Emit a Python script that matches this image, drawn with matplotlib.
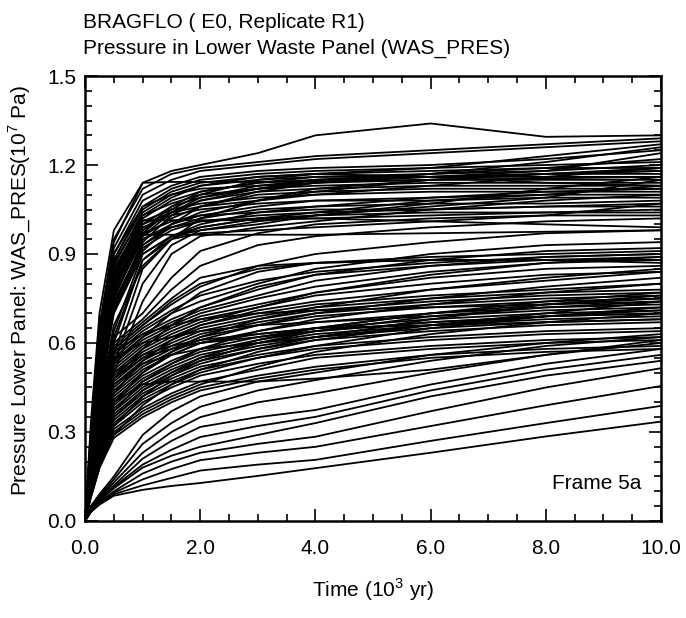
"""Recreate BRAGFLO WAS_PRES spaghetti plot (Frame 5a)."""

import matplotlib
import matplotlib.pyplot as plt
from matplotlib.ticker import FormatStrFormatter, MultipleLocator

matplotlib.use("Agg")

plt.rcParams["font.family"] = ["Liberation Sans", "DejaVu Sans"]
plt.rcParams["mathtext.fontset"] = "custom"
plt.rcParams["mathtext.rm"] = "Liberation Sans"

# ── Data (pressure, 1e7 Pa) ──────────────────────────────────────────────────

TIME = [0.0, 0.1, 0.25, 0.5, 1.0, 1.5, 2.0, 3.0, 4.0, 6.0, 8.0, 10.0]

HIGH = [
    [0, 0.33, 0.70, 0.98, 1.14, 1.18, 1.20, 1.24, 1.30, 1.34, 1.295, 1.30],
    [0, 0.30, 0.66, 0.95, 1.12, 1.17, 1.19, 1.21, 1.23, 1.25, 1.27, 1.29],
    [0, 0.28, 0.62, 0.92, 1.10, 1.15, 1.18, 1.20, 1.22, 1.24, 1.26, 1.28],
    [0, 0.30, 0.64, 0.94, 1.14, 1.143, 1.143, 1.143, 1.145, 1.15, 1.155, 1.16],
    [0, 0.26, 0.58, 0.88, 1.06, 1.12, 1.15, 1.17, 1.18, 1.19, 1.20, 1.21],
    [0, 0.27, 0.60, 0.90, 1.08, 1.13, 1.16, 1.18, 1.19, 1.20, 1.22, 1.25],
    [0, 0.25, 0.55, 0.86, 1.04, 1.10, 1.13, 1.15, 1.16, 1.16, 1.17, 1.17],
    [0, 0.24, 0.54, 0.84, 1.02, 1.08, 1.11, 1.14, 1.15, 1.16, 1.16, 1.16],
    [0, 0.26, 0.57, 0.87, 1.03, 1.07, 1.10, 1.12, 1.14, 1.15, 1.15, 1.15],
    [0, 0.23, 0.52, 0.82, 1.00, 1.06, 1.09, 1.12, 1.13, 1.14, 1.14, 1.14],
    [0, 0.25, 0.56, 0.85, 1.014, 1.014, 1.014, 1.014, 1.02, 1.03, 1.04, 1.05],
    [0, 0.22, 0.50, 0.80, 0.965, 0.965, 0.965, 0.965, 0.965, 0.97, 0.975, 0.98],
    [0, 0.22, 0.50, 0.80, 0.98, 1.04, 1.08, 1.11, 1.12, 1.13, 1.13, 1.13],
    [0, 0.21, 0.48, 0.78, 0.96, 1.02, 1.06, 1.10, 1.11, 1.12, 1.12, 1.12],
    [0, 0.24, 0.53, 0.83, 1.01, 1.05, 1.07, 1.09, 1.10, 1.11, 1.11, 1.11],
    [0, 0.20, 0.46, 0.76, 0.95, 1.00, 1.03, 1.06, 1.08, 1.09, 1.10, 1.10],
    [0, 0.23, 0.51, 0.81, 0.99, 1.03, 1.05, 1.07, 1.08, 1.08, 1.09, 1.09],
    [0, 0.20, 0.45, 0.74, 0.93, 0.99, 1.02, 1.05, 1.06, 1.07, 1.07, 1.08],
    [0, 0.19, 0.44, 0.72, 0.92, 0.98, 1.01, 1.03, 1.04, 1.05, 1.06, 1.07],
    [0, 0.21, 0.47, 0.77, 0.97, 1.01, 1.03, 1.04, 1.05, 1.05, 1.06, 1.06],
    [0, 0.18, 0.42, 0.70, 0.90, 0.96, 0.99, 1.02, 1.03, 1.04, 1.04, 1.04],
    [0, 0.22, 0.49, 0.79, 0.97, 1.05, 1.10, 1.15, 1.17, 1.18, 1.19, 1.19],
    [0, 0.21, 0.48, 0.78, 0.98, 1.06, 1.11, 1.14, 1.16, 1.17, 1.18, 1.20],
    [0, 0.20, 0.46, 0.75, 0.96, 1.04, 1.09, 1.13, 1.15, 1.16, 1.17, 1.18],
    [0, 0.19, 0.45, 0.73, 0.94, 1.03, 1.08, 1.12, 1.15, 1.17, 1.19, 1.22],
    [0, 0.18, 0.43, 0.71, 0.91, 1.00, 1.06, 1.11, 1.14, 1.16, 1.18, 1.24],
    [0, 0.17, 0.40, 0.66, 0.86, 0.95, 1.02, 1.08, 1.12, 1.15, 1.17, 1.19],
    [0, 0.15, 0.35, 0.60, 0.88, 0.96, 1.00, 1.04, 1.06, 1.09, 1.11, 1.12],
    [0, 0.14, 0.33, 0.56, 0.85, 0.95, 0.99, 1.02, 1.04, 1.08, 1.10, 1.13],
    [0, 0.13, 0.31, 0.53, 0.80, 0.93, 0.98, 1.01, 1.03, 1.06, 1.09, 1.15],
    [0, 0.12, 0.30, 0.50, 0.74, 0.90, 0.96, 0.99, 1.01, 1.05, 1.08, 1.10],
    [0, 0.27, 0.60, 0.90, 1.06, 1.10, 1.12, 1.13, 1.14, 1.17, 1.21, 1.26],
    [0, 0.24, 0.54, 0.84, 1.03, 1.09, 1.13, 1.16, 1.17, 1.16, 1.14, 1.13],
    [0, 0.19, 0.44, 0.73, 0.93, 1.00, 1.04, 1.08, 1.11, 1.15, 1.17, 1.18],
    [0, 0.16, 0.38, 0.64, 0.90, 0.96, 0.98, 1.00, 1.03, 1.07, 1.12, 1.16],
    [0, 0.23, 0.52, 0.82, 1.00, 1.04, 1.06, 1.08, 1.10, 1.13, 1.16, 1.19],
    [0, 0.20, 0.46, 0.76, 0.95, 0.99, 1.01, 1.02, 1.02, 1.01, 1.00, 0.99],
    [0, 0.15, 0.36, 0.62, 0.88, 0.95, 0.97, 0.98, 0.99, 1.01, 1.03, 1.07],
    [0, 0.26, 0.58, 0.88, 1.05, 1.11, 1.14, 1.16, 1.17, 1.19, 1.23, 1.27],
]

MIDDLE = [
    [0, 0.22, 0.44, 0.62, 0.70, 0.82, 0.91, 0.97, 1.00, 1.02, 1.03, 1.03],
    [0, 0.21, 0.43, 0.60, 0.68, 0.78, 0.86, 0.93, 0.96, 0.99, 1.01, 1.02],
    [0, 0.20, 0.42, 0.59, 0.67, 0.75, 0.82, 0.86, 0.87, 0.88, 0.88, 0.89],
    [0, 0.20, 0.41, 0.58, 0.66, 0.73, 0.79, 0.86, 0.90, 0.94, 0.97, 0.98],
    [0, 0.19, 0.40, 0.57, 0.65, 0.71, 0.76, 0.81, 0.84, 0.87, 0.89, 0.90],
    [0, 0.19, 0.39, 0.56, 0.64, 0.70, 0.74, 0.80, 0.85, 0.90, 0.93, 0.94],
    [0, 0.18, 0.38, 0.55, 0.63, 0.68, 0.72, 0.78, 0.83, 0.88, 0.91, 0.92],
    [0, 0.18, 0.37, 0.54, 0.62, 0.67, 0.71, 0.76, 0.81, 0.86, 0.89, 0.90],
    [0, 0.17, 0.36, 0.53, 0.61, 0.66, 0.70, 0.75, 0.79, 0.84, 0.87, 0.88],
    [0, 0.17, 0.35, 0.52, 0.60, 0.65, 0.69, 0.73, 0.77, 0.82, 0.85, 0.86],
    [0, 0.16, 0.34, 0.51, 0.59, 0.64, 0.68, 0.72, 0.76, 0.80, 0.83, 0.84],
    [0, 0.16, 0.33, 0.50, 0.58, 0.63, 0.67, 0.72, 0.77, 0.83, 0.87, 0.89],
    [0, 0.15, 0.33, 0.49, 0.57, 0.62, 0.66, 0.70, 0.73, 0.76, 0.78, 0.80],
    [0, 0.15, 0.32, 0.48, 0.56, 0.61, 0.65, 0.69, 0.72, 0.75, 0.77, 0.78],
    [0, 0.14, 0.31, 0.47, 0.55, 0.60, 0.64, 0.68, 0.71, 0.74, 0.76, 0.77],
    [0, 0.14, 0.30, 0.46, 0.54, 0.59, 0.63, 0.67, 0.70, 0.73, 0.75, 0.76],
    [0, 0.14, 0.30, 0.45, 0.53, 0.58, 0.62, 0.66, 0.69, 0.72, 0.74, 0.75],
    [0, 0.13, 0.29, 0.44, 0.52, 0.57, 0.61, 0.66, 0.70, 0.75, 0.79, 0.82],
    [0, 0.13, 0.28, 0.43, 0.51, 0.56, 0.60, 0.64, 0.67, 0.70, 0.72, 0.73],
    [0, 0.13, 0.28, 0.42, 0.50, 0.56, 0.60, 0.63, 0.65, 0.66, 0.67, 0.68],
    [0, 0.12, 0.27, 0.41, 0.49, 0.54, 0.58, 0.62, 0.65, 0.68, 0.70, 0.71],
    [0, 0.12, 0.26, 0.40, 0.48, 0.53, 0.57, 0.61, 0.64, 0.67, 0.69, 0.70],
    [0, 0.12, 0.26, 0.39, 0.47, 0.52, 0.56, 0.60, 0.63, 0.66, 0.68, 0.69],
    [0, 0.11, 0.25, 0.38, 0.46, 0.51, 0.55, 0.59, 0.62, 0.65, 0.67, 0.68],
    [0, 0.11, 0.24, 0.37, 0.45, 0.50, 0.54, 0.58, 0.61, 0.64, 0.66, 0.67],
    [0, 0.11, 0.24, 0.36, 0.44, 0.49, 0.53, 0.58, 0.62, 0.68, 0.73, 0.76],
    [0, 0.10, 0.23, 0.35, 0.43, 0.48, 0.52, 0.56, 0.59, 0.62, 0.64, 0.65],
    [0, 0.10, 0.22, 0.34, 0.42, 0.47, 0.51, 0.55, 0.58, 0.61, 0.63, 0.64],
    [0, 0.10, 0.22, 0.33, 0.41, 0.46, 0.50, 0.55, 0.59, 0.65, 0.69, 0.72],
    [0, 0.09, 0.21, 0.32, 0.40, 0.45, 0.49, 0.53, 0.56, 0.59, 0.61, 0.62],
    [0, 0.12, 0.26, 0.40, 0.46, 0.47, 0.47, 0.47, 0.48, 0.51, 0.56, 0.61],
    [0, 0.09, 0.20, 0.31, 0.38, 0.43, 0.47, 0.51, 0.55, 0.58, 0.60, 0.61],
    [0, 0.09, 0.19, 0.30, 0.37, 0.42, 0.46, 0.52, 0.57, 0.63, 0.67, 0.70],
    [0, 0.08, 0.18, 0.29, 0.36, 0.41, 0.45, 0.49, 0.52, 0.56, 0.58, 0.59],
    [0, 0.08, 0.18, 0.28, 0.35, 0.40, 0.44, 0.48, 0.51, 0.55, 0.57, 0.58],
    [0, 0.17, 0.36, 0.53, 0.62, 0.70, 0.77, 0.84, 0.87, 0.89, 0.90, 0.91],
    [0, 0.15, 0.32, 0.48, 0.58, 0.66, 0.72, 0.79, 0.83, 0.86, 0.88, 0.88],
    [0, 0.13, 0.28, 0.43, 0.54, 0.61, 0.66, 0.71, 0.74, 0.78, 0.81, 0.84],
    [0, 0.18, 0.38, 0.55, 0.60, 0.62, 0.64, 0.66, 0.67, 0.69, 0.71, 0.72],
    [0, 0.16, 0.34, 0.50, 0.56, 0.59, 0.61, 0.63, 0.65, 0.70, 0.74, 0.77],
    [0, 0.12, 0.26, 0.40, 0.50, 0.57, 0.62, 0.68, 0.72, 0.78, 0.82, 0.85],
    [0, 0.11, 0.24, 0.37, 0.47, 0.53, 0.58, 0.64, 0.68, 0.73, 0.77, 0.80],
    [0, 0.14, 0.30, 0.46, 0.53, 0.56, 0.58, 0.60, 0.62, 0.66, 0.70, 0.74],
    [0, 0.10, 0.22, 0.35, 0.44, 0.50, 0.55, 0.61, 0.65, 0.70, 0.73, 0.75],
    [0, 0.19, 0.40, 0.57, 0.63, 0.66, 0.68, 0.70, 0.71, 0.72, 0.73, 0.74],
    [0, 0.09, 0.20, 0.32, 0.42, 0.49, 0.54, 0.60, 0.64, 0.69, 0.72, 0.74],
    [0, 0.08, 0.18, 0.29, 0.39, 0.46, 0.51, 0.57, 0.61, 0.66, 0.69, 0.71],
    [0, 0.15, 0.32, 0.48, 0.55, 0.58, 0.60, 0.62, 0.64, 0.67, 0.69, 0.70],
    [0, 0.20, 0.41, 0.58, 0.66, 0.74, 0.80, 0.85, 0.87, 0.88, 0.88, 0.87],
]

LOW = [
    [0, 0.030, 0.055, 0.085, 0.105, 0.118, 0.128, 0.152, 0.178, 0.23, 0.285, 0.335],
    [0, 0.030, 0.060, 0.090, 0.120, 0.145, 0.170, 0.190, 0.206, 0.27, 0.33, 0.388],
    [0, 0.030, 0.060, 0.095, 0.140, 0.175, 0.205, 0.230, 0.250, 0.32, 0.39, 0.455],
    [0, 0.035, 0.065, 0.100, 0.160, 0.200, 0.230, 0.260, 0.284, 0.37, 0.45, 0.515],
    [0, 0.035, 0.070, 0.110, 0.180, 0.220, 0.250, 0.290, 0.330, 0.42, 0.49, 0.54],
    [0, 0.035, 0.070, 0.115, 0.190, 0.240, 0.283, 0.320, 0.351, 0.44, 0.51, 0.56],
    [0, 0.040, 0.075, 0.120, 0.210, 0.270, 0.317, 0.350, 0.374, 0.46, 0.53, 0.58],
    [0, 0.040, 0.080, 0.130, 0.230, 0.300, 0.350, 0.400, 0.430, 0.50, 0.56, 0.60],
    [0, 0.045, 0.085, 0.140, 0.260, 0.330, 0.385, 0.440, 0.475, 0.54, 0.59, 0.62],
    [0, 0.050, 0.090, 0.150, 0.290, 0.370, 0.420, 0.470, 0.500, 0.56, 0.60, 0.63],
]

# ── Figure ───────────────────────────────────────────────────────────────────

fig = plt.figure(figsize=(6.86, 6.18), dpi=100)
ax = fig.add_axes([0.124, 0.157, 0.8397, 0.720])

for row in HIGH + MIDDLE + LOW:
    ax.plot(TIME, row, color="black", linewidth=1.3, solid_joinstyle="round")

ax.set_xlim(0, 10)
ax.set_ylim(0, 1.5)
ax.xaxis.set_major_locator(MultipleLocator(2.0))
ax.xaxis.set_minor_locator(MultipleLocator(0.5))
ax.yaxis.set_major_locator(MultipleLocator(0.3))
ax.yaxis.set_minor_locator(MultipleLocator(0.05))
ax.xaxis.set_major_formatter(FormatStrFormatter("%.1f"))
ax.yaxis.set_major_formatter(FormatStrFormatter("%.1f"))
ax.tick_params(which="both", direction="in", top=True, right=True, width=1.2)
ax.tick_params(which="major", length=9, labelsize=15)
ax.tick_params(which="minor", length=5)
ax.tick_params(axis="x", pad=13)
ax.tick_params(axis="y", pad=6)
for spine in ax.spines.values():
    spine.set_linewidth(1.8)

ax.text(0.965, 0.085, "Frame 5a", transform=ax.transAxes, ha="right",
        va="center", fontsize=15)

fig.text(83 / 686, 1 - 22 / 618, "BRAGFLO ( E0, Replicate R1)", fontsize=15,
         ha="left", va="center")
fig.text(83 / 686, 1 - 48 / 618, "Pressure in Lower Waste Panel (WAS_PRES)",
         fontsize=15, ha="left", va="center")
fig.text(373 / 686, 1 - 590 / 618, "Time (10$^{3}$ yr)", fontsize=15,
         ha="center", va="center")
fig.text(20 / 686, 1 - 290 / 618, "Pressure Lower Panel: WAS_PRES(10$^{7}$ Pa)",
         fontsize=15, ha="center", va="center", rotation=90)

fig.savefig("out.png", dpi=100)
